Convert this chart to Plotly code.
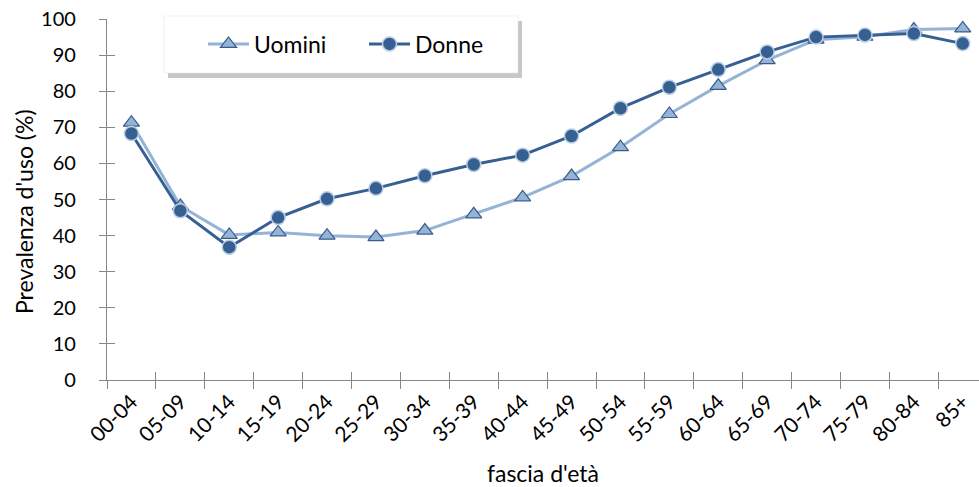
import plotly.graph_objects as go

categories = ["00-04", "05-09", "10-14", "15-19", "20-24", "25-29", "30-34", "35-39", "40-44",
              "45-49", "50-54", "55-59", "60-64", "65-69", "70-74", "75-79", "80-84", "85+"]
uomini = [71.3, 48.2, 40.2, 40.9, 40.0, 39.6, 41.4, 45.9, 50.6,
          56.5, 64.5, 73.7, 81.5, 88.6, 94.3, 95.1, 97.1, 97.4]
donne = [68.3, 46.9, 36.8, 45.0, 50.2, 53.1, 56.6, 59.7, 62.3,
         67.6, 75.3, 81.1, 86.0, 90.9, 95.0, 95.6, 96.0, 93.2]
y_ticks = [0, 10, 20, 30, 40, 50, 60, 70, 80, 90, 100]

FONT = "Lato"
AX = "#868686"

W, H = 979, 487
ML, MR, MT, MB = 107, 0, 19, 107
pw = W - ML - MR
ph = H - MT - MB
xr = [-0.5, -0.5 + pw / 48.9]
yr = [0, 100.02]


def px_x(p):
    return (p - ML) / pw


def px_y(p):
    return (H - MB - p) / ph


fig = go.Figure()
fig.add_trace(go.Scatter(
    x=categories, y=uomini, name="Uomini", mode="lines+markers",
    line=dict(color="#95B3D7", width=3),
    marker=dict(symbol="triangle-up", size=14, color="#95B3D7",
                line=dict(color="#385D8A", width=1.2)),
    cliponaxis=False,
))
fig.add_trace(go.Scatter(
    x=categories, y=donne, name="Donne", mode="lines+markers",
    line=dict(color="#376092", width=3),
    marker=dict(symbol="circle", size=14, color="#376092",
                line=dict(color="#B9CDE5", width=1.5)),
    cliponaxis=False,
))
# empty trace to create overlay axes for crossing ticks
fig.add_trace(go.Scatter(x=[], y=[], xaxis="x2", yaxis="y2", showlegend=False, hoverinfo="skip"))

# legend box + shadow
bx0, bx1, by0, by1 = px_x(164), px_x(518), px_y(73), px_y(16)
sx, sy = 4 / pw, 5 / ph
fig.add_shape(type="rect", xref="paper", yref="paper", x0=bx0 + sx, x1=bx1 + sx, y0=by0 - sy, y1=by1 - sy,
              line=dict(width=0), fillcolor="rgba(0,0,0,0.22)", layer="above")
fig.add_shape(type="rect", xref="paper", yref="paper", x0=bx0, x1=bx1, y0=by0, y1=by1,
              line=dict(color="#E0E0E0", width=0.5), fillcolor="white", layer="above")

# y axis title as annotation
fig.add_annotation(text="Prevalenza d'uso (%)", xref="paper", yref="paper",
                   x=px_x(24), y=px_y(212), xanchor="center", yanchor="middle",
                   textangle=-90, showarrow=False,
                   font=dict(family=FONT, size=23, color="#000000"))

fig.update_layout(
    width=W, height=H,
    margin=dict(l=ML, r=MR, t=MT, b=MB, autoexpand=False),
    paper_bgcolor="white", plot_bgcolor="white",
    font=dict(family=FONT, size=19, color="#000000"),
    showlegend=True,
    legend=dict(orientation="h", x=px_x(203), xanchor="left", y=px_y(44), yanchor="middle",
                bgcolor="rgba(0,0,0,0)", borderwidth=0, itemwidth=41,
                entrywidth=105, font=dict(family=FONT, size=23, color="#000000")),
    xaxis=dict(type="category", categoryorder="array", categoryarray=categories,
               range=xr, showgrid=False, zeroline=False, automargin=False,
               showline=True, linecolor=AX, linewidth=1.3,
               ticks="outside", ticklen=8, tickcolor=AX, tickwidth=1.3, tickson="boundaries",
               tickangle=-45, tickfont=dict(family=FONT, size=21, color="#000000"),
               ticklabeloverflow="allow",
               title=dict(text="fascia d'età", font=dict(family=FONT, size=23), standoff=20)),
    yaxis=dict(range=yr, tickvals=y_ticks, showgrid=False, zeroline=False, automargin=False,
               showline=True, linecolor=AX, linewidth=1.3,
               ticks="outside", ticklen=7, tickcolor=AX, tickwidth=1.3,
               ticklabelstandoff=19, ticklabeloverflow="allow",
               tickfont=dict(family=FONT, size=20, color="#000000")),
    xaxis2=dict(overlaying="x", anchor="y2", range=xr, showgrid=False, zeroline=False, automargin=False,
                showline=False, showticklabels=False, ticks="inside", ticklen=8, tickcolor=AX,
                tickwidth=1.3, tickvals=[i - 0.5 for i in range(len(categories) + 1)]),
    yaxis2=dict(overlaying="y", anchor="x2", range=yr, showgrid=False, zeroline=False, automargin=False,
                showline=False, showticklabels=False, ticks="inside", ticklen=8, tickcolor=AX,
                tickwidth=1.3, tickvals=y_ticks),
)

fig.write_html("out.html", config={"displayModeBar": False},
               post_script="document.body.style.margin='0px';")
